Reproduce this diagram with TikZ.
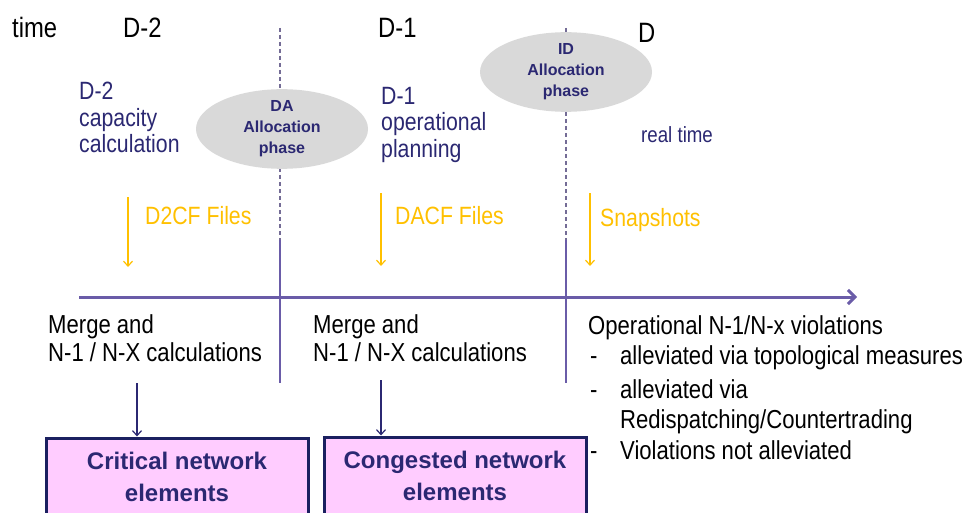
\documentclass[tikz,border=0pt]{standalone}
\usepackage{fontspec}
\setmainfont{Liberation Sans}
\newfontfamily\narrow[FakeStretch=0.85]{Liberation Sans}
\usepackage{tikz}
\usetikzlibrary{shapes,arrows,arrows.meta,positioning,calc}
\definecolor{navy}{HTML}{2B2872}
\definecolor{timeaxis}{HTML}{6A5CA8}
\definecolor{gold}{HTML}{FFC000}
\definecolor{softpink}{HTML}{FFCCFF}
\definecolor{boxline}{HTML}{1B2060}

\begin{document}
\begin{tikzpicture}[x=1pt, y=-1pt, inner sep=0pt, align=left,
    day/.style={anchor=west, font=\narrow\fontsize{28}{30}\selectfont},
    plan/.style={anchor=north west, text=navy, font=\narrow\fontsize{25}{26.5}\selectfont},
    files/.style={anchor=west, text=gold, font=\narrow\fontsize{25}{27}\selectfont},
    calcline/.style={anchor=north west, font=\narrow\fontsize{26}{28}\selectfont},
    phase/.style={ellipse, fill=black!15, minimum width=172pt, minimum height=76pt,
        align=center, text=navy, font=\bfseries\fontsize{16}{21}\selectfont},
    result/.style={draw=boxline, line width=3pt, fill=softpink, minimum width=262pt,
        minimum height=78pt, align=center, text=navy,
        font=\bfseries\fontsize{24}{32}\selectfont},
    feed/.style={gold, line width=1.2pt, -{Straight Barb[length=5pt,width=9pt]}},
    flow/.style={navy, line width=1.2pt, -{Straight Barb[length=5pt,width=9pt]}}]
\useasboundingbox (0,0) rectangle (965,513);

% day borders
\foreach \x in {280,566}{
    \draw[timeaxis!55!gray, dash pattern=on 4pt off 3pt, line width=1.2pt] (\x,28) -- (\x,240);
    \draw[timeaxis, line width=1.6pt] (\x,240) -- (\x,383);
}
\draw[timeaxis, line width=3pt, -{Straight Barb[length=7pt,width=14pt]}] (79,297) -- (857,297);

\node[day] (time) at (12,27) {time};
\node[day] (dm2) at (123,28) {D-2};
\node[day] (dm1) at (378,28) {D-1};
\node[day] (d) at (638,33) {D};

\node[phase] (da) at (282,129) {DA\\Allocation\\phase};
\node[phase] (id) at (566,72) {ID\\Allocation\\phase};

\node[plan] (capcalc) at (79,82) {D-2\\capacity\\calculation};
\node[plan] (opplan) at (381,87) {D-1\\operational\\planning};
\node[plan, font=\narrow\fontsize{22}{24}\selectfont] (rt) at (641,126) {real time};

% incoming files
\coordinate (f1) at (128,197);
\coordinate (f2) at (381,193);
\coordinate (f3) at (590,193);
\draw[feed] (f1) -- ++(0,70);
\draw[feed] (f2) -- ++(0,73);
\draw[feed] (f3) -- ++(0,73);
\node[files] (d2cf) at (145,216) {D2CF Files};
\node[files] (dacf) at (395,216) {DACF Files};
\node[files] (snap) at (600,220) {Snapshots};

\node[calcline] (merge1) at (48,314) {Merge and\\N-1 / N-X calculations};
\node[calcline] (merge2) at (313,314) {Merge and\\N-1 / N-X calculations};

\node[result] (cne) at (177,477) {Critical network\\elements};
\node[result] (cgne) at (455,476) {Congested network\\elements};
\draw[flow] (137,383) -- (cne.north -| 137,0);
\draw[flow] (381,380) -- (cgne.north -| 381,0);

\node[calcline] (viol) at (588,315) {Operational N-1/N-x violations};
\node[calcline, below=6pt of viol.south west, anchor=north west, xshift=32pt] (topo) {alleviated via topological measures};
\node[calcline, below=9pt of topo.south west, anchor=north west, font=\narrow\fontsize{26}{30}\selectfont] (redisp) {alleviated via\\Redispatching/Countertrading};
\node[calcline, below=7pt of redisp.south west, anchor=north west] (notall) {Violations not alleviated};
\foreach \b in {topo,redisp,notall}
    \node[calcline, anchor=north west] at ($(\b.north west)+(-30,0)$) {\vphantom{l}-};
%    \node[calcline] at (620,480) {};
\end{tikzpicture}
\end{document}
